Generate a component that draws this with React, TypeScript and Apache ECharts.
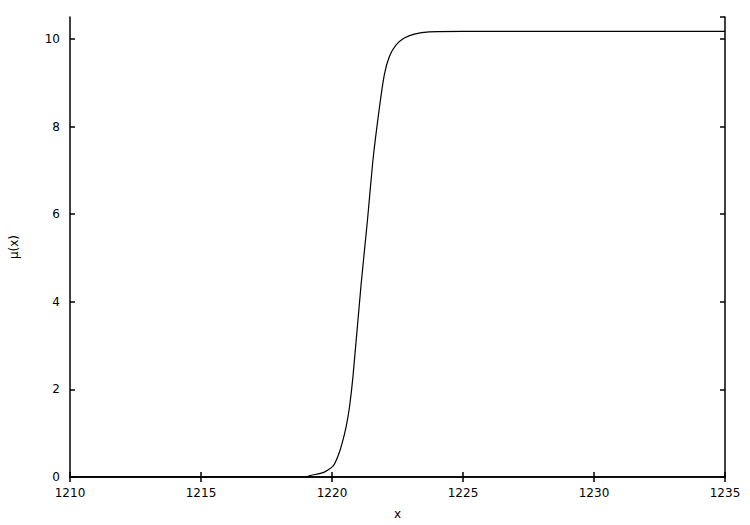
import React, { useEffect, useRef } from "react";
import * as echarts from "echarts";

// Curva: x y mu(x)
const xValues = [
  1210, 1219, 1219.21, 1219.66, 1220.04, 1220.23, 1220.39, 1220.54, 1220.67, 1220.8,
  1221.11, 1221.36, 1221.56, 1221.81, 1222.0, 1222.19, 1222.44, 1222.76, 1223.14,
  1223.71, 1225, 1235,
];
const muValues = [
  0, 0, 0.04, 0.1, 0.25, 0.48, 0.78, 1.15, 1.61, 2.29,
  4.39, 5.9, 7.22, 8.43, 9.19, 9.6, 9.86, 10.02, 10.11,
  10.16, 10.17, 10.17,
];

const xTicks = [1210, 1215, 1220, 1225, 1230, 1235];
const yTicks = [0, 2, 4, 6, 8, 10];

const font = "'DejaVu Sans', Arial, sans-serif";

const App: React.FC = () => {
  const chartRef = useRef<HTMLDivElement>(null);

  useEffect(() => {
    if (!chartRef.current) return;
    const chart = echarts.init(chartRef.current, undefined, { renderer: "svg" });

    const lineStyle = { color: "#000", width: 1.5 };
    const hidden = { show: false };

    chart.setOption({
      animation: false,
      backgroundColor: "#fff",
      grid: { left: 66, right: 25, top: 17, bottom: 44, containLabel: false },
      xAxis: [
        {
          type: "value",
          min: xTicks[0],
          max: xTicks[xTicks.length - 1],
          interval: 5,
          position: "bottom",
          name: "x",
          nameLocation: "middle",
          nameGap: 31,
          nameTextStyle: { color: "#000", fontFamily: font, fontSize: 12 },
          axisLine: { show: true, lineStyle },
          axisTick: { show: true, inside: true, length: 5, lineStyle },
          axisLabel: {
            color: "#000",
            fontFamily: font,
            fontSize: 12,
            margin: 10,
            formatter: (v: number) => String(v),
          },
          splitLine: hidden,
        },
        {
          type: "value",
          min: xTicks[0],
          max: xTicks[xTicks.length - 1],
          interval: 5,
          position: "top",
          axisLine: { show: true, lineStyle },
          axisTick: { show: true, inside: true, length: 5, lineStyle },
          axisLabel: hidden,
          splitLine: hidden,
        },
      ],
      yAxis: [
        {
          type: "value",
          min: yTicks[0],
          max: 10.5,
          interval: 2,
          position: "left",
          name: "μ(x)",
          nameLocation: "middle",
          nameRotate: 90,
          nameGap: 50,
          nameTextStyle: { color: "#000", fontFamily: font, fontSize: 12 },
          axisLine: { show: true, lineStyle },
          axisTick: { show: true, inside: true, length: 5, lineStyle },
          axisLabel: {
            color: "#000",
            fontFamily: font,
            fontSize: 12,
            margin: 10,
            showMaxLabel: false,
            formatter: (v: number) => String(v),
          },
          splitLine: hidden,
        },
        {
          type: "value",
          min: yTicks[0],
          max: 10.5,
          interval: 2,
          position: "right",
          axisLine: { show: true, lineStyle },
          axisTick: { show: true, inside: true, length: 5, lineStyle },
          axisLabel: hidden,
          splitLine: hidden,
        },
      ],
      series: [
        {
          type: "line",
          xAxisIndex: 0,
          yAxisIndex: 0,
          data: xValues.map((x, i) => [x, muValues[i]]),
          smooth: 0.2,
          showSymbol: false,
          lineStyle: { color: "#000", width: 1.2 },
        },
      ],
    });

    return () => {
      chart.dispose();
    };
  }, []);

  return (
    <div
      ref={chartRef}
      style={{ position: "fixed", left: 0, top: 0, width: 750, height: 525 }}
    />
  );
};

export default App;
